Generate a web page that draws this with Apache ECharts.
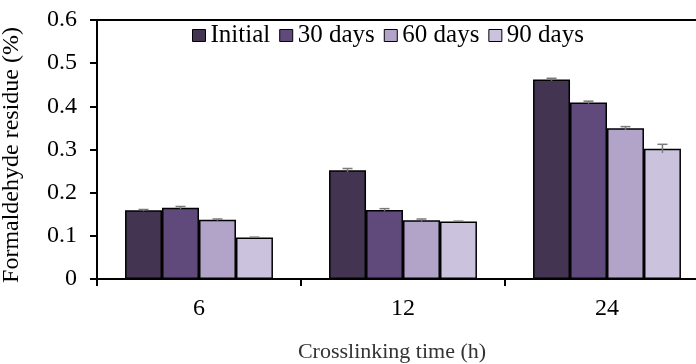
<!DOCTYPE html>
<html>
<head>
<meta charset="utf-8">
<script src="https://cdn.jsdelivr.net/npm/echarts@6/dist/echarts.min.js"></script>
<style>
html,body{margin:0;padding:0;background:#fff;}
#chart{width:696px;height:364px;}
</style>
</head>
<body>
<div id="chart"></div>
<script>
var categories = ['6', '12', '24'];
var seriesNames = ['Initial', '30 days', '60 days', '90 days'];
var initialVals = [0.159, 0.252, 0.462];
var days30Vals = [0.165, 0.160, 0.409];
var days60Vals = [0.137, 0.136, 0.349];
var days90Vals = [0.096, 0.133, 0.302];
var initialErr = [0.002, 0.004, 0.003];
var days30Err = [0.003, 0.003, 0.003];
var days60Err = [0.002, 0.003, 0.004];
var days90Err = [0.001, 0.001, 0.010];
var yTicks = [0, 0.1, 0.2, 0.3, 0.4, 0.5, 0.6];

var colors = ['#433452', '#5f4a7b', '#b2a3c9', '#cbc3dd'];
var allVals = [initialVals, days30Vals, days60Vals, days90Vals];
var allErr = [initialErr, days30Err, days60Err, days90Err];
var GAP = 0.275;
var FONT = '"Liberation Serif", "Times New Roman", serif';

var chart = echarts.init(document.getElementById('chart'), null, {renderer: 'canvas'});

var series = [];
seriesNames.forEach(function (name, si) {
  series.push({
    name: name,
    type: 'bar',
    data: allVals[si],
    barGap: '0%',
    barCategoryGap: (GAP * 100) + '%',
    itemStyle: {color: colors[si], borderColor: '#000', borderWidth: 1.5},
    z: 2
  });
});
seriesNames.forEach(function (name, si) {
  series.push({
    type: 'custom',
    name: name + ' err',
    z: 3,
    silent: true,
    data: allVals[si].map(function (v, i) { return [i, v, allErr[si][i]]; }),
    renderItem: function (params, api) {
      var ci = api.value(0);
      var v = api.value(1);
      var e = api.value(2);
      var bandW = api.size([1, 0])[0];
      var barW = bandW * (1 - GAP) / 4;
      var c = api.coord([ci, v]);
      var cx = c[0] + (si - 1.5) * barW;
      var top = api.coord([ci, v + e])[1];
      var bot = api.coord([ci, v - e])[1];
      var cap = 5;
      var st = {stroke: '#7a7a7a', lineWidth: 1.5};
      return {
        type: 'group',
        children: [
          {type: 'line', shape: {x1: cx, y1: top, x2: cx, y2: bot}, style: st},
          {type: 'line', shape: {x1: cx - cap, y1: top, x2: cx + cap, y2: top}, style: st}
        ]
      };
    }
  });
});

chart.setOption({
  animation: false,
  backgroundColor: '#fff',
  textStyle: {fontFamily: FONT, color: '#000'},
  legend: {
    data: seriesNames,
    left: 192,
    top: 23,
    padding: 0,
    itemWidth: 13,
    itemHeight: 12,
    itemGap: 9,
    icon: 'rect',
    textStyle: {fontFamily: FONT, fontSize: 25, color: '#000'},
    itemStyle: {borderColor: '#000', borderWidth: 1}
  },
  grid: {left: 97, top: 20, width: 612, height: 259, containLabel: false, outerBoundsMode: 'none'},
  xAxis: [{
    type: 'category',
    data: categories,
    position: 'bottom',
    axisLine: {show: true, lineStyle: {color: '#000', width: 2}},
    axisTick: {show: true, length: 7, lineStyle: {color: '#000', width: 2}},
    axisLabel: {fontFamily: FONT, fontSize: 24, color: '#000', margin: 18},
    name: 'Crosslinking time (h)',
    nameLocation: 'middle',
    nameGap: 62,
    nameTextStyle: {fontFamily: FONT, fontSize: 22, color: '#333', padding: [0, 22, 0, 0]}
  }, {
    type: 'category',
    data: categories,
    position: 'top',
    axisLine: {show: true, lineStyle: {color: '#000', width: 2}},
    axisTick: {show: false},
    axisLabel: {show: false}
  }],
  yAxis: {
    type: 'value',
    min: 0,
    max: 0.6,
    interval: 0.1,
    axisLine: {show: true, lineStyle: {color: '#000', width: 2}},
    axisTick: {show: true, length: 7, lineStyle: {color: '#000', width: 2}},
    splitLine: {show: false},
    axisLabel: {
      fontFamily: FONT, fontSize: 24, color: '#000', margin: 20,
      formatter: function (v) {
        for (var i = 0; i < yTicks.length; i++) {
          if (Math.abs(yTicks[i] - v) < 1e-9) return String(yTicks[i]);
        }
        return '';
      }
    },
    name: 'Formaldehyde residue (%)',
    nameLocation: 'middle',
    nameGap: 73,
    nameRotate: 90,
    nameTextStyle: {fontFamily: FONT, fontSize: 24, color: '#000', padding: [0, 11, 0, 0]}
  },
  series: series
});
</script>
</body>
</html>
